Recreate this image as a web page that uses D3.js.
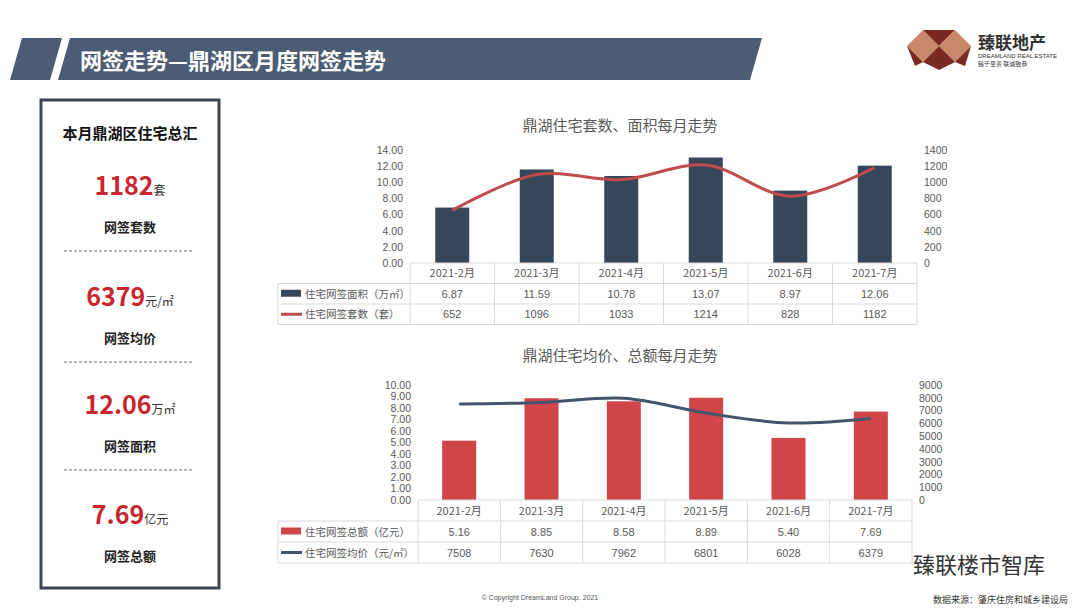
<!DOCTYPE html>
<html><head><meta charset="utf-8">
<script src="https://cdn.jsdelivr.net/npm/d3@7"></script>
<style>body{margin:0;background:#fff;font-family:"Noto Sans CJK SC","Noto Sans",sans-serif}</style>
</head><body><svg id="c" width="1080" height="608"></svg>
<script>
const months = ["2021-2月","2021-3月","2021-4月","2021-5月","2021-6月","2021-7月"];
const area = [6.87,11.59,10.78,13.07,8.97,12.06];
const units = [652,1096,1033,1214,828,1182];
const total = [5.16,8.85,8.58,8.89,5.40,7.69];
const price = [7508,7630,7962,6801,6028,6379];
const areaTicks = [0,2,4,6,8,10,12,14];
const unitTicks = [0,200,400,600,800,1000,1200,1400];
const totalTicks = [0,1,2,3,4,5,6,7,8,9,10];
const priceTicks = [0,1000,2000,3000,4000,5000,6000,7000,8000,9000];
const summary = [
  {v:"1182",u:"套",l:"网签套数"},
  {v:"6379",u:"元/㎡",l:"网签均价"},
  {v:"12.06",u:"万㎡",l:"网签面积"},
  {v:"7.69",u:"亿元",l:"网签总额"}
];

const svg = d3.select("#c");
const F = '"Noto Sans CJK SC",sans-serif';
svg.append("polygon").attr("points","22,38 62,38 50,80 10,80").attr("fill","#4a5d75");
svg.append("polygon").attr("points","70,38 762,38 750,80 58,80").attr("fill","#4a5d75");
svg.append("text").attr("x",80).attr("y",69).attr("fill","#fff").attr("font-size",22).attr("font-weight","bold").attr("font-family",F).text("网签走势—鼎湖区月度网签走势");
const lg = svg.append("g").attr("transform","translate(907,26)");
lg.append("polygon").attr("points","0,20 16,4 32,20 16,36").attr("fill","#c8896a");
lg.append("polygon").attr("points","16,4 32,20 48,4").attr("fill","#7a2a20");
lg.append("polygon").attr("points","32,20 48,4 64,20 48,36").attr("fill","#c8896a");
lg.append("polygon").attr("points","16,36 32,20 48,36 32,44").attr("fill","#7a2a20");
lg.append("polygon").attr("points","0,20 16,36 8,40").attr("fill","#7a2a20");
lg.append("polygon").attr("points","64,20 48,36 58,40").attr("fill","#7a2a20");
svg.append("text").attr("x",978).attr("y",49).attr("font-size",17).attr("font-weight","bold").attr("fill","#333").attr("font-family",F).text("臻联地产");
svg.append("text").attr("x",978).attr("y",58).attr("font-size",6).attr("fill","#333").attr("font-family","Liberation Sans").text("DREAMLAND REAL ESTATE");
svg.append("text").attr("x",978).attr("y",66).attr("font-size",6).attr("fill","#333").attr("font-family",F).text("臻于至善 联诚致恭");

svg.append("rect").attr("x",41).attr("y",100).attr("width",178).attr("height",488).attr("fill","#fff").attr("stroke","#3d4651").attr("stroke-width",3);
svg.append("text").attr("x",130).attr("y",139).attr("text-anchor","middle").attr("font-size",15).attr("font-weight","bold").attr("font-family",F).attr("fill","#111").text("本月鼎湖区住宅总汇");
const sy=[195,306,414,524];
summary.forEach((s,i)=>{
  const t=svg.append("text").attr("x",130).attr("y",sy[i]).attr("text-anchor","middle").attr("font-family",F);
  t.append("tspan").attr("font-size",25).attr("font-weight","bold").attr("fill","#c9252c").text(s.v);
  t.append("tspan").attr("font-size",12).attr("fill","#333").text(s.u);
  svg.append("text").attr("x",130).attr("y",sy[i]+37).attr("text-anchor","middle").attr("font-size",13).attr("font-weight","bold").attr("font-family",F).attr("fill","#222").text(s.l);
  if(i<3) svg.append("line").attr("x1",64).attr("x2",192).attr("y1",sy[i]+56).attr("y2",sy[i]+56).attr("stroke","#444").attr("stroke-dasharray","3,2").attr("stroke-width",0.8);
});

function chart(o){
  const g=svg.append("g");
  g.append("text").attr("x",620).attr("y",o.titleY).attr("text-anchor","middle").attr("font-size",15).attr("fill","#595959").attr("font-family",F).text(o.title);
  const x=d3.scaleBand().domain(months).range([o.x0,o.x1]);
  const yl=d3.scaleLinear().domain([0,d3.max(o.lt)]).range([o.yb,o.yt]);
  const yr=d3.scaleLinear().domain([0,d3.max(o.rt)]).range([o.yb,o.yt]);
  const axL=g.append("g").attr("transform",`translate(${o.x0-4},0)`).call(d3.axisLeft(yl).tickValues(o.lt).tickSize(0).tickFormat(d3.format(".2f")));
  const axR=g.append("g").attr("transform",`translate(${o.x1+4},0)`).call(d3.axisRight(yr).tickValues(o.rt).tickSize(0).tickFormat(d3.format("d")));
  [axL,axR].forEach(a=>{a.select(".domain").remove();a.selectAll("text").attr("fill","#595959").attr("font-size",10.5).attr("font-family","Liberation Sans Narrow, Liberation Sans");});
  const bw=34;
  g.selectAll(".b").data(o.bars).enter().append("rect").attr("x",(d,i)=>x(months[i])+x.bandwidth()/2-bw/2).attr("y",d=>yl(d)).attr("width",bw).attr("height",d=>o.yb-yl(d)).attr("fill",o.barC);
  const line=d3.line().x((d,i)=>x(months[i])+x.bandwidth()/2).y(d=>yr(d)).curve(d3.curveCatmullRom.alpha(0.5));
  g.append("path").attr("d",line(o.line)).attr("fill","none").attr("stroke",o.lineC).attr("stroke-width",3);
  const rh=o.rh, lx=278;
  const tc="#d9d9d9";
  for(let r=0;r<=3;r++){
    const yy=o.yb+r*rh;
    g.append("line").attr("x1",r==0?o.x0:lx).attr("x2",o.x1).attr("y1",yy).attr("y2",yy).attr("stroke",tc);
  }
  months.forEach((m,i)=>{
    const xx=x(m);
    g.append("line").attr("x1",xx).attr("x2",xx).attr("y1",o.yb).attr("y2",o.yb+3*rh).attr("stroke",tc);
    const cx=xx+x.bandwidth()/2;
    g.append("text").attr("x",cx).attr("y",o.yb+rh*0.5+4).attr("text-anchor","middle").attr("font-size",11).attr("fill","#595959").attr("font-family",F).text(m);
    g.append("text").attr("x",cx).attr("y",o.yb+rh*1.5+4).attr("text-anchor","middle").attr("font-size",11).attr("fill","#595959").attr("font-family","Liberation Sans").text(o.fmtB(o.bars[i]));
    g.append("text").attr("x",cx).attr("y",o.yb+rh*2.5+4).attr("text-anchor","middle").attr("font-size",11).attr("fill","#595959").attr("font-family","Liberation Sans").text(o.line[i]);
  });
  g.append("line").attr("x1",o.x1).attr("x2",o.x1).attr("y1",o.yb).attr("y2",o.yb+3*rh).attr("stroke",tc);
  g.append("line").attr("x1",lx).attr("x2",lx).attr("y1",o.yb+rh).attr("y2",o.yb+3*rh).attr("stroke",tc);
  g.append("rect").attr("x",lx+3).attr("y",o.yb+rh*1.5-4).attr("width",20).attr("height",7).attr("fill",o.barC);
  g.append("line").attr("x1",lx+3).attr("x2",lx+24).attr("y1",o.yb+rh*2.5).attr("y2",o.yb+rh*2.5).attr("stroke",o.lineC).attr("stroke-width",3);
  g.append("text").attr("x",lx+27).attr("y",o.yb+rh*1.5+4).attr("font-size",10.5).attr("fill","#595959").attr("font-family",F).text(o.lb);
  g.append("text").attr("x",lx+27).attr("y",o.yb+rh*2.5+4).attr("font-size",10.5).attr("fill","#595959").attr("font-family",F).text(o.ll);
}
chart({title:"鼎湖住宅套数、面积每月走势",titleY:131,x0:410,x1:917,yt:150,yb:263,rh:20.5,lt:areaTicks,rt:unitTicks,bars:area,line:units,barC:"#37475a",lineC:"#bf4b4b",fmtB:d3.format(".2f"),lb:"住宅网签面积（万㎡）",ll:"住宅网签套数（套）"});
chart({title:"鼎湖住宅均价、总额每月走势",titleY:361,x0:418,x1:912,yt:385,yb:500,rh:21,lt:totalTicks,rt:priceTicks,bars:total,line:price,barC:"#d04547",lineC:"#44546a",fmtB:d3.format(".2f"),lb:"住宅网签总额（亿元）",ll:"住宅网签均价（元/㎡）"});

svg.append("text").attr("x",540).attr("y",600).attr("text-anchor","middle").attr("font-size",7).attr("fill","#555").attr("font-family","Liberation Sans").text("© Copyright  DreamLand  Group.  2021");
svg.append("text").attr("x",1068).attr("y",603).attr("text-anchor","end").attr("font-size",9).attr("fill","#333").attr("font-family",F).text("数据来源：肇庆住房和城乡建设局");
svg.append("text").attr("x",1045).attr("y",573).attr("text-anchor","end").attr("font-size",22).attr("fill","#333").attr("font-family",F).text("臻联楼市智库");
</script></body></html>
